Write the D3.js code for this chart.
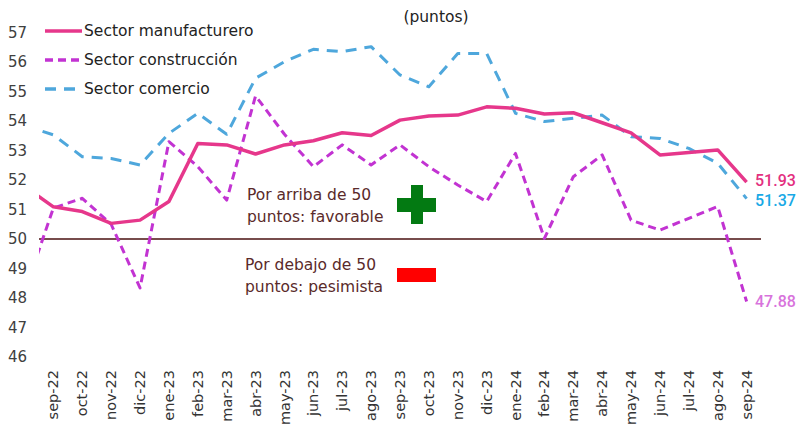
<!DOCTYPE html>
<html>
<head>
<meta charset="utf-8">
<script src="https://cdn.jsdelivr.net/npm/d3@7"></script>
<style>
  body { margin: 0; background: #fff; }
  svg { display: block; font-family: "DejaVu Sans", sans-serif; }
</style>
</head>
<body>
<div id="chart"></div>
<script>
// first month (ago-22) sits just outside the plot and is clipped
const months = ["ago-22", "sep-22", "oct-22", "nov-22", "dic-22", "ene-23", "feb-23", "mar-23", "abr-23",
    "may-23", "jun-23", "jul-23", "ago-23", "sep-23", "oct-23", "nov-23", "dic-23", "ene-24", "feb-24",
    "mar-24", "abr-24", "may-24", "jun-24", "jul-24", "ago-24", "sep-24"];

const manufacturero = [51.78, 51.09, 50.93, 50.53, 50.64, 51.27, 53.24, 53.19, 52.88, 53.19, 53.33, 53.6, 53.51,
    54.03, 54.17, 54.2, 54.48, 54.43, 54.24, 54.28, 53.94, 53.6, 52.85, 52.93, 53.02, 51.93];
const construccion = [48.2, 51.05, 51.38, 50.5, 48.34, 53.3, 52.45, 51.32, 54.85, 53.55, 52.45, 53.19, 52.51,
    53.19, 52.45, 51.83, 51.27, 52.9, 50.02, 52.11, 52.85, 50.64, 50.3, 50.7, 51.1, 47.88];
const comercio = [53.85, 53.53, 52.79, 52.73, 52.51, 53.58, 54.26, 53.55, 55.45, 56.01, 56.43, 56.35, 56.52,
    55.56, 55.16, 56.29, 56.29, 54.26, 53.98, 54.09, 54.2, 53.47, 53.41, 53.07, 52.57, 51.37];

const yTicks = [46, 47, 48, 49, 50, 51, 52, 53, 54, 55, 56, 57];

const series = [
    { name: "Sector manufacturero", values: manufacturero, color: "#e6378b", label: "#e3307f", dash: null, width: 3.5, dy: -2 },
    { name: "Sector construcción", values: construccion, color: "#c233d2", label: "#d873dc", dash: "8,5", width: 3, dy: 0 },
    { name: "Sector comercio", values: comercio, color: "#4ea7dc", label: "#18a9e6", dash: "11,8", width: 3, dy: 2 }
];

const width = 810, height = 439;
const plotLeft = 39, plotRight = 761;

const svg = d3.select("#chart").append("svg")
    .attr("width", width)
    .attr("height", height);

const x = d3.scalePoint()
    .domain(months)
    .range([24.5, 746.6]);

const y = d3.scaleLinear()
    .domain([46, 57])
    .range([357, 32.5]);

svg.append("clipPath").attr("id", "plot")
    .append("rect")
    .attr("x", plotLeft).attr("y", 0)
    .attr("width", plotRight - plotLeft).attr("height", height);

// y tick labels
svg.selectAll(".ytick")
    .data(yTicks)
    .enter().append("text")
    .attr("class", "ytick")
    .attr("x", 27)
    .attr("y", d => y(d))
    .attr("dy", "0.35em")
    .attr("text-anchor", "end")
    .style("font-size", "15px")
    .style("fill", "#404040")
    .text(d => d);

// x tick labels (rotated)
svg.selectAll(".xtick")
    .data(months.slice(1))
    .enter().append("text")
    .attr("class", "xtick")
    .attr("transform", d => `translate(${x(d)}, 370) rotate(-90)`)
    .attr("dy", "0.35em")
    .attr("text-anchor", "end")
    .style("font-size", "14.5px")
    .style("fill", "#333")
    .text(d => d);

// 50 reference line
svg.append("line")
    .attr("x1", plotLeft).attr("x2", plotRight)
    .attr("y1", y(50)).attr("y2", y(50))
    .attr("stroke", "#4a1010")
    .attr("stroke-width", 1.5);

// annotations
const note = svg.append("g")
    .style("font-size", "15.5px")
    .style("fill", "#5a2a2a");
note.append("text").attr("x", 247).attr("y", 200).text("Por arriba de 50");
note.append("text").attr("x", 247).attr("y", 222).text("puntos: favorable");
note.append("text").attr("x", 245).attr("y", 270).text("Por debajo de 50");
note.append("text").attr("x", 245).attr("y", 292).text("puntos: pesimista");

// green plus and red minus
svg.append("rect").attr("x", 397).attr("y", 198).attr("width", 39).attr("height", 14).attr("fill", "#037a12");
svg.append("rect").attr("x", 411).attr("y", 185).attr("width", 12).attr("height", 39).attr("fill", "#037a12");
svg.append("rect").attr("x", 397).attr("y", 268).attr("width", 39).attr("height", 14).attr("fill", "#ff0000");

// lines
const line = d3.line()
    .x((d, i) => x(months[i]))
    .y(d => y(d));

const lines = svg.append("g").attr("clip-path", "url(#plot)");
series.slice().reverse().forEach(s => {
    lines.append("path")
        .datum(s.values)
        .attr("d", line)
        .attr("fill", "none")
        .attr("stroke", s.color)
        .attr("stroke-width", s.width)
        .attr("stroke-dasharray", s.dash)
        .attr("stroke-linejoin", "round");
});

// last value labels
series.forEach(s => {
    const last = s.values[s.values.length - 1];
    svg.append("text")
        .attr("x", 755)
        .attr("y", y(last) + s.dy)
        .attr("dy", "0.35em")
        .style("font-family", "Roboto, sans-serif")
        .style("font-size", "16px")
        .style("font-weight", "500")
        .style("fill", s.label)
        .text(last.toFixed(2));
});

// legend
const legend = svg.selectAll(".legend")
    .data(series)
    .enter().append("g")
    .attr("class", "legend")
    .attr("transform", (d, i) => `translate(45, ${31 + i * 29})`);

legend.append("line")
    .attr("x1", 0).attr("x2", 37)
    .attr("stroke", d => d.color)
    .attr("stroke-width", 3.5)
    .attr("stroke-dasharray", d => d.dash);

legend.append("text")
    .attr("x", 39)
    .attr("dy", "0.35em")
    .style("font-size", "15.5px")
    .style("fill", "#222")
    .text(d => d.name);

// subtitle
svg.append("text")
    .attr("x", 436).attr("y", 17)
    .attr("dy", "0.35em")
    .attr("text-anchor", "middle")
    .style("font-size", "15.5px")
    .style("fill", "#222")
    .text("(puntos)");
</script>
</body>
</html>
